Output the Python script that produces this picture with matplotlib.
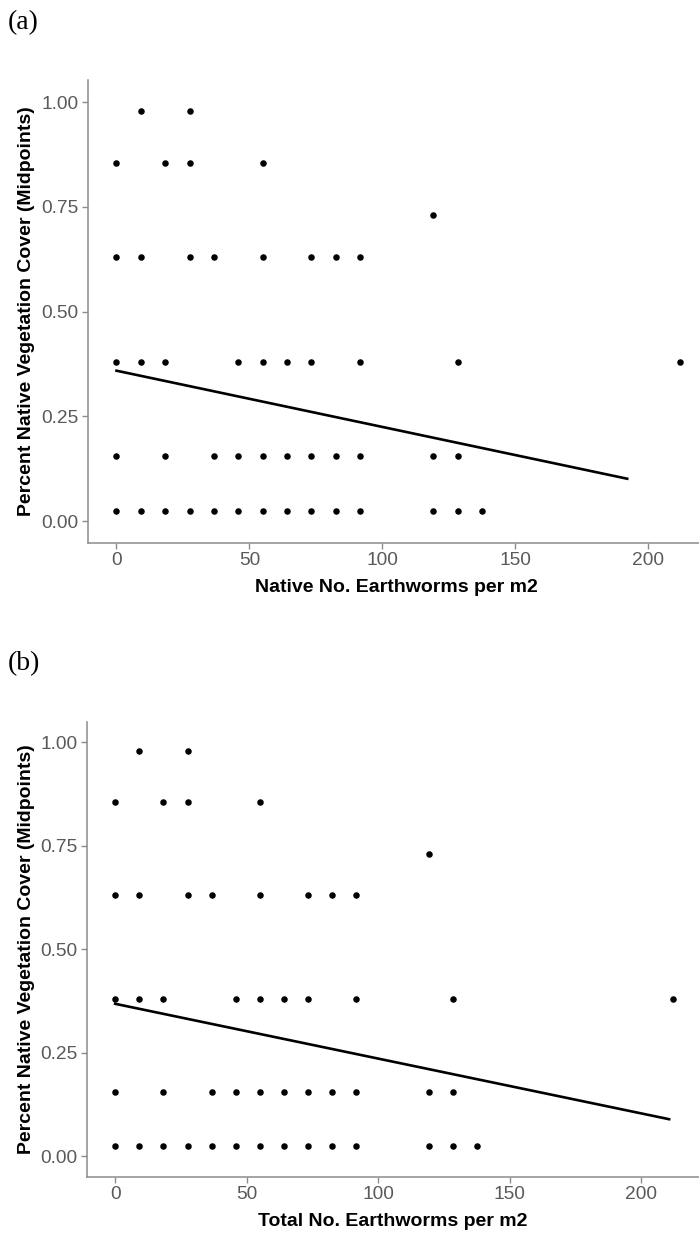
import matplotlib
matplotlib.use("Agg")
import matplotlib.pyplot as plt

# earthworm densities (per m2) by vegetation cover midpoint, shared by both panels
x_098 = [9.2, 27.5]
x_0855 = [0, 18.3, 27.5, 55.0]
x_073 = [119.2]
x_063 = [0, 9.2, 27.5, 36.7, 55.0, 73.3, 82.5, 91.7]
x_038 = [0, 9.2, 18.3, 45.8, 55.0, 64.2, 73.3, 91.7, 128.3, 211.9]
x_0155 = [0, 18.3, 36.7, 45.8, 55.0, 64.2, 73.3, 82.5, 91.7, 119.2, 128.3]
x_0025 = [0, 9.2, 18.3, 27.5, 36.7, 45.8, 55.0, 64.2, 73.3, 82.5, 91.7,
          119.2, 128.3, 137.5]
cover_levels = [0.98, 0.855, 0.73, 0.63, 0.38, 0.155, 0.025]

# fitted lines (start, end)
fit_a_x = [0, 192.1]
fit_a_y = [0.359, 0.101]
fit_b_x = [0, 210.6]
fit_b_y = [0.368, 0.089]

x_ticks = [0, 50, 100, 150, 200]
y_ticks = [0.00, 0.25, 0.50, 0.75, 1.00]

W, H = 699, 1233
grey_txt = "#5a5a5a"
grey_line = "#8c8c8c"


def points():
    xs, ys = [], []
    for xv, yv in zip([x_098, x_0855, x_073, x_063, x_038, x_0155, x_0025],
                      cover_levels):
        xs += xv
        ys += [yv] * len(xv)
    return xs, ys


def panel(fig, box, ylim, fit_x, fit_y, xlabel, xlab_pos, tag, tag_y):
    left, right, top, bottom = box
    ax = fig.add_axes([left / W, 1 - bottom / H, (right - left) / W,
                       (bottom - top) / H])
    xs, ys = points()
    ax.scatter(xs, ys, s=22, color="black", zorder=3, linewidths=0)
    ax.plot(fit_x, fit_y, color="black", lw=1.9, zorder=2)

    ax.set_xlim(-10.6, 222.5)
    ax.set_ylim(*ylim)
    ax.set_xticks(x_ticks)
    ax.set_xticklabels([str(t) for t in x_ticks])
    ax.set_yticks(y_ticks)
    ax.set_yticklabels(["%.2f" % t for t in y_ticks])

    for side in ["top", "right"]:
        ax.spines[side].set_visible(False)
    for side in ["left", "bottom"]:
        ax.spines[side].set_color(grey_line)
        ax.spines[side].set_linewidth(1.1)
    ax.tick_params(colors=grey_line, length=4, width=1.0, pad=3,
                   labelcolor=grey_txt, labelsize=13.8)
    for lab in ax.get_xticklabels() + ax.get_yticklabels():
        lab.set_family("Liberation Sans")

    fig.text(27 / W, 1 - (top + bottom) / 2 / H,
             "Percent Native Vegetation Cover (Midpoints)",
             rotation=90, ha="center", va="center", fontsize=14,
             fontweight="bold", family="Liberation Sans")
    fig.text(xlab_pos[0] / W, 1 - xlab_pos[1] / H, xlabel, ha="center",
             va="baseline", fontsize=14, fontweight="bold",
             family="Liberation Sans")
    fig.text(8 / W, 1 - tag_y / H, tag, ha="left", va="baseline",
             fontsize=20, family="Liberation Serif")
    return ax


def main():
    fig = plt.figure(figsize=(W / 100, H / 100), dpi=100)
    panel(fig, (88.3, 708, 80.5, 542.5), (-0.0513, 1.052), fit_a_x, fit_a_y,
          "Native No. Earthworms per m2", (396.5, 592), "(a)", 29)
    panel(fig, (87.3, 700.4, 721.7, 1176.7), (-0.050, 1.050), fit_b_x,
          fit_b_y, "Total No. Earthworms per m2", (392.5, 1225.5), "(b)", 670)
    fig.savefig("out.png", dpi=100)


if __name__ == "__main__":
    main()
